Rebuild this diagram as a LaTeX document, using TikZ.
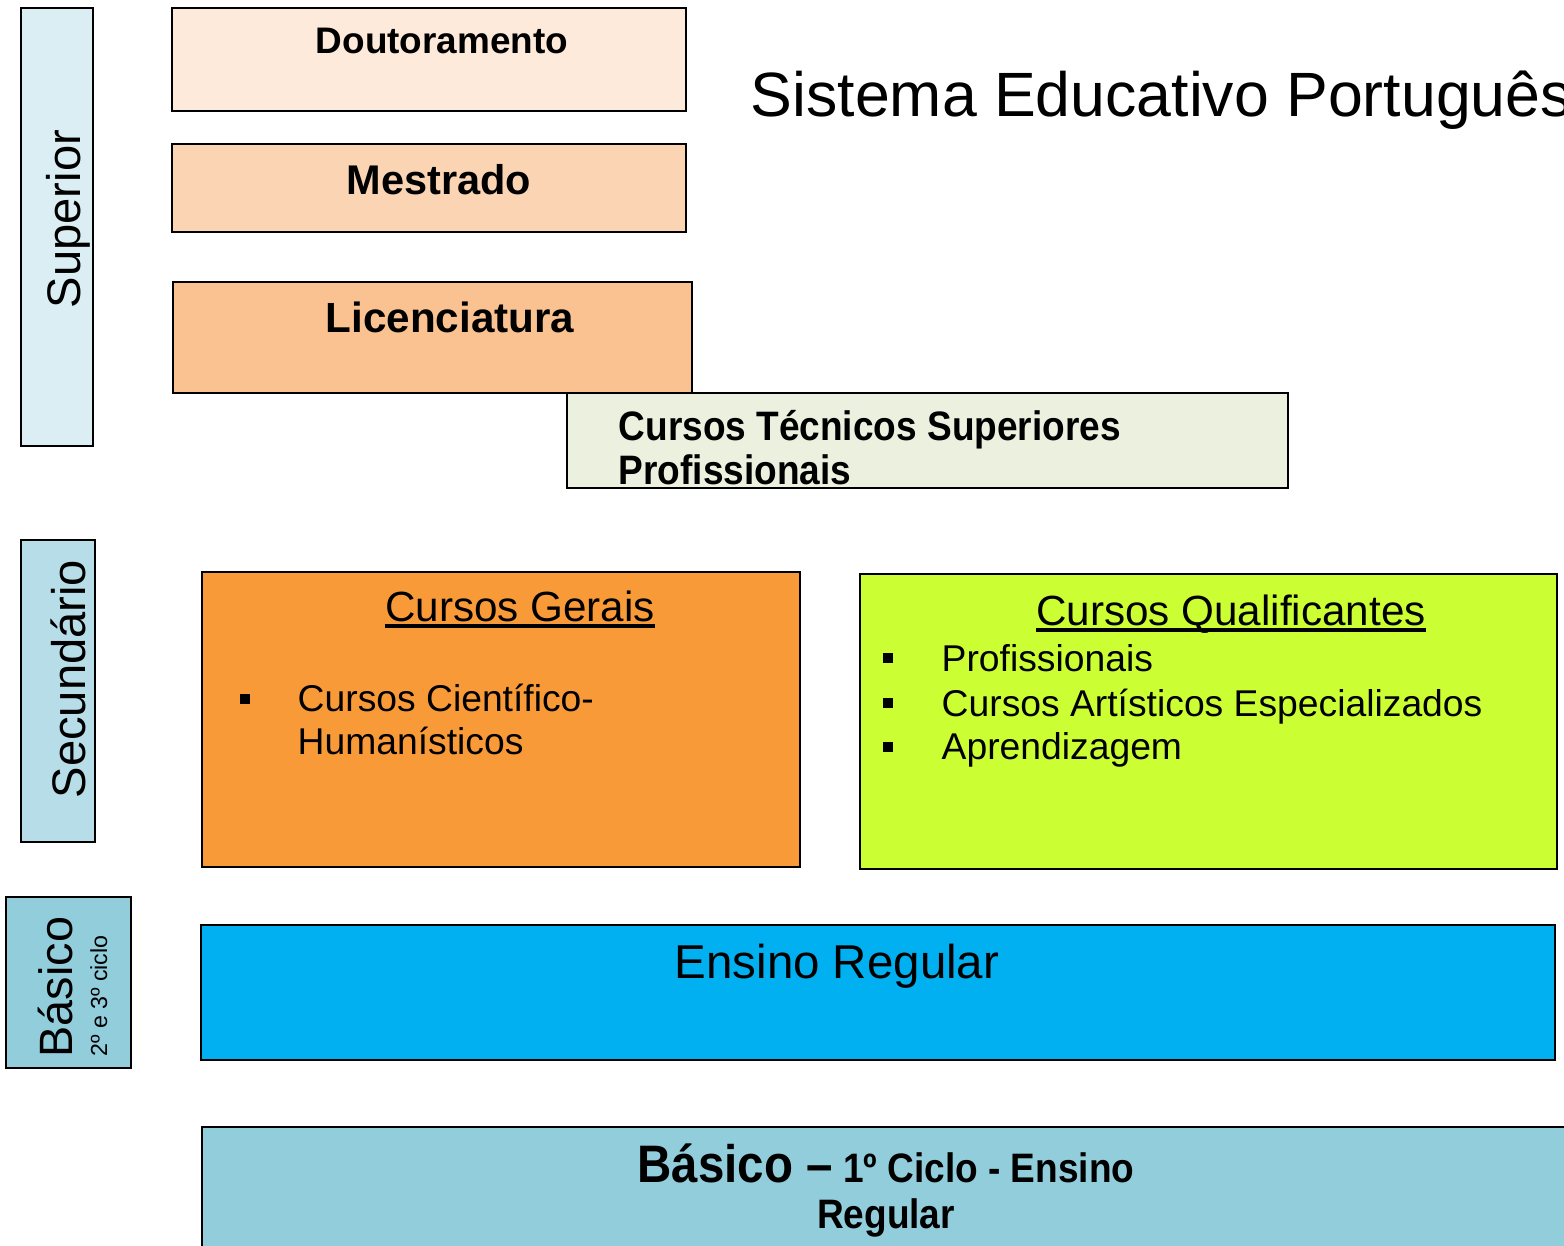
\documentclass[tikz,border=0pt]{standalone}
\usepackage{fontspec}
\setmainfont{Liberation Sans}
\newfontfamily\narrowsans[FakeStretch=0.9]{Liberation Sans}

\definecolor{superiorblue}{HTML}{DAEEF3}
\definecolor{doutcolor}{HTML}{FDEADA}
\definecolor{mestcolor}{HTML}{FBD4B4}
\definecolor{licencolor}{HTML}{F9C290}
\definecolor{ctspcolor}{HTML}{EBF1DE}
\definecolor{secundblue}{HTML}{B7DDE8}
\definecolor{geraiscolor}{HTML}{F99A38}
\definecolor{qualifcolor}{HTML}{CCFF33}
\definecolor{basicoblue}{HTML}{92CDDC}
\definecolor{regularblue}{HTML}{00B0F0}

% underlined heading with a thick rule
\newcommand{\headrule}[1]{\setbox0\hbox{#1}\rlap{\rule[-2pt]{\wd0}{1.1pt}}\box0}

\begin{document}
\begin{tikzpicture}[
    x=0.01cm,
    y=-0.01cm,
    box/.style={
        draw=black,
        line width=0.6pt
    },
    sidelabel/.style={
        rotate=90,
        anchor=base,
        inner sep=0pt,
        font=\fontsize{13.4}{16}\selectfont
    },
    degree/.style={
        anchor=base,
        inner sep=0pt,
        font=\bfseries\fontsize{#1}{14}\selectfont
    },
    ctsptext/.style={
        anchor=base west,
        inner sep=0pt,
        font=\narrowsans\bfseries\fontsize{11.7}{14}\selectfont
    },
    coursehead/.style={
        anchor=base,
        inner sep=0pt,
        font=\fontsize{12}{14}\selectfont
    },
    itemtext/.style={
        anchor=base west,
        inner sep=0pt,
        font=\fontsize{10.6}{13}\selectfont
    },
    bullet/.style={
        fill=black,
        rectangle,
        minimum size=0.1cm,
        inner sep=0pt
    }
    ]
    \useasboundingbox (0,0) rectangle (1564,1245);
    \clip (0,0) rectangle (1564,1245);

    % level labels on the left
    \draw[box, fill=superiorblue] (21,8) rectangle (93,446);
    \node[sidelabel] (superior) at (80,219) {Superior};
    \draw[box, fill=secundblue] (21,540) rectangle (95,842);
    \node[sidelabel] (secundario) at (85,679) {Secundário};
    \draw[box, fill=basicoblue] (6,897) rectangle (131,1068);
    \node[sidelabel, font=\fontsize{13.3}{16}\selectfont] (basico) at (72,987) {Básico};
    \node[sidelabel, font=\fontsize{6.6}{8}\selectfont] (ciclos) at (107,996) {2º e 3º ciclo};

    % title
    \node[anchor=base west, inner sep=0pt, font=\fontsize{17.8}{21}\selectfont] (title) at (750,116) {Sistema Educativo Português};

    % ensino superior
    \draw[box, fill=doutcolor] (172,8) rectangle (686,111);
    \node[degree=10.5] (dout) at (442,53) {Doutoramento};
    \draw[box, fill=mestcolor] (172,144) rectangle (686,232);
    \node[degree=11.8] (mest) at (439,194) {Mestrado};
    \draw[box, fill=licencolor] (173,282) rectangle (692,393);
    \node[degree=12] (licen) at (450,332) {Licenciatura};
    \draw[box, fill=ctspcolor] (567,393) rectangle (1288,488);
    \node[ctsptext] (ctspA) at (618,440) {Cursos Técnicos Superiores};
    \node[ctsptext] (ctspB) at (618,484) {Profissionais};

    % ensino secundario
    \draw[box, fill=geraiscolor] (202,572) rectangle (800,867);
    \node[coursehead] (gerais) at (520,621) {\headrule{Cursos Gerais}};
    \node[bullet] (bulletG) at (245,699) {};
    \node[itemtext] (cientA) at (297,711) {Cursos Científico-};
    \node[itemtext] (cientB) at (297,754) {Humanísticos};

    \draw[box, fill=qualifcolor] (860,574) rectangle (1557,869);
    \node[coursehead] (qualif) at (1231,625) {\headrule{Cursos Qualificantes}};
    \node[bullet] (bulletA) at (888,658) {};
    \node[itemtext] (prof) at (941,671) {Profissionais};
    \node[bullet] (bulletB) at (888,703) {};
    \node[itemtext] (artist) at (941,716) {Cursos Artísticos Especializados};
    \node[bullet] (bulletC) at (888,747) {};
    \node[itemtext] (aprend) at (941,759) {Aprendizagem};

    % ensino basico
    \draw[box, fill=regularblue] (201,925) rectangle (1555,1060);
    \node[anchor=base, inner sep=0pt, font=\fontsize{13.5}{16}\selectfont] (regular) at (837,978) {Ensino Regular};
    \draw[box, fill=basicoblue] (202,1127) rectangle (1620,1300);
    \node[anchor=base, inner sep=0pt, font=\narrowsans\bfseries\fontsize{11.7}{13}\selectfont] (ciclo1A) at (886,1182) {{\fontsize{15}{18}\selectfont Básico –} 1º Ciclo - Ensino};
    \node[anchor=base, inner sep=0pt, font=\narrowsans\bfseries\fontsize{11.7}{13}\selectfont] (ciclo1B) at (886,1228) {Regular};
\end{tikzpicture}
\end{document}
